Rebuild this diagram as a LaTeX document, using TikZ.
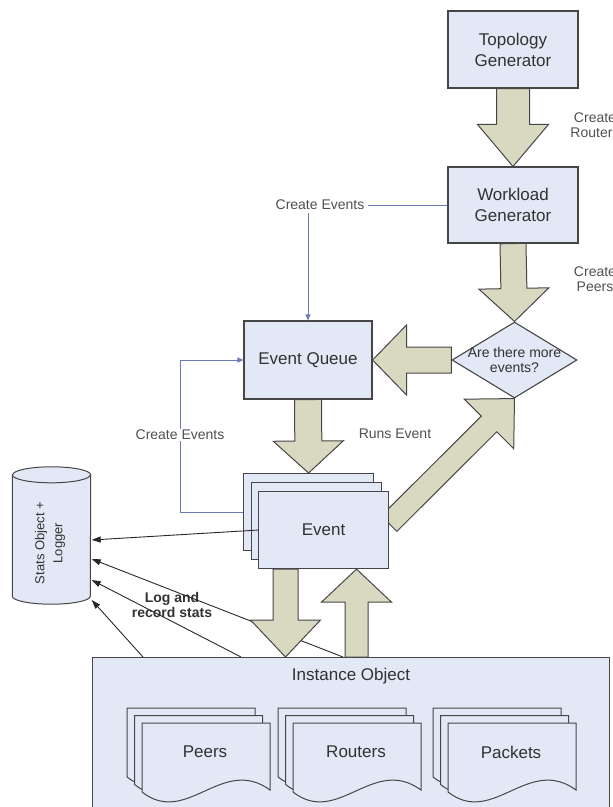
\documentclass[tikz,border=0pt]{standalone}
\usepackage{fontspec}
\setmainfont{Liberation Sans}
\usetikzlibrary{shapes.geometric,arrows.meta,calc}
\pgfdeclarelayer{lines}
\pgfdeclarelayer{arrows}
\pgfsetlayers{lines,arrows,main}

\definecolor{boxfill}{RGB}{226,232,245}
\definecolor{arrowfill}{RGB}{217,217,194}
\definecolor{edge}{RGB}{70,70,70}
\definecolor{textgray}{RGB}{50,50,50}
\definecolor{labelgray}{RGB}{80,80,80}
\definecolor{flowblue}{RGB}{105,125,180}
\definecolor{loggray}{RGB}{40,40,40}

% block arrow: start, tip, half shaft width, half head width, head length
\newcommand{\blockarrow}[5]{%
  \coordinate (ba-base) at ($(#2)!#5!(#1)$);
  \filldraw[blockarrow]
    ($(#1)!#3!90:(#2)$) -- ($(ba-base)!#3!90:(#2)$) -- ($(ba-base)!#4!90:(#2)$)
    -- (#2)
    -- ($(ba-base)!#4!-90:(#2)$) -- ($(ba-base)!#3!-90:(#2)$) -- ($(#1)!#3!-90:(#2)$) -- cycle;
}

\tikzset{
  bigtext/.style={font=\fontsize{17}{21}\selectfont, text=textgray, align=center},
  smalltext/.style={font=\fontsize{14}{15}\selectfont, text=labelgray, align=center},
  box/.style={bigtext, draw=edge, line width=1.1pt, fill=boxfill, inner sep=0pt},
  blockarrow/.style={draw=edge, line width=1pt, fill=arrowfill, line join=miter},
  logline/.style={draw=loggray, line width=0.9pt, -{Triangle[length=9pt,width=6pt]}},
  flow/.style={draw=flowblue, line width=0.8pt},
  flowarrow/.style={flow, -{Triangle[length=6pt,width=5pt]}},
  docpage/.pic={\filldraw[draw=edge, line width=1pt, fill=boxfill]
    (0,0) -- (128,0) -- (128,67) .. controls (80,32) and (45,104) .. (0,69) -- cycle;}
}

\begin{document}
\begin{tikzpicture}[x=1pt,y=-1pt]
\useasboundingbox (0,0) rectangle (613,807);

% generators, decision and queue
\node[box, minimum width=130pt, minimum height=77pt] (topo) at (513,49.5) {Topology\\Generator};
\node[box, minimum width=130pt, minimum height=76pt] (work) at (513,205) {Workload\\Generator};
\node[box, shape=diamond, minimum width=125pt, minimum height=76pt] (dia) at (514.5,360) {};
\node[smalltext, text=textgray] (diatext) at (dia.center) {Are there more\\events?};
\node[box, minimum width=128pt, minimum height=78pt] (queue) at (308,360) {Event Queue};

% stack of events
\node[box, minimum width=130pt, minimum height=77pt, anchor=north west] (evb2) at (243,473) {};
\node[box, minimum width=130pt, minimum height=77pt, anchor=north west] (evb1) at (250.5,482) {};
\node[box, minimum width=130pt, minimum height=77pt, anchor=north west] (ev) at (258,491) {Event};

% stats object and logger (cylinder)
\node[minimum width=78pt, minimum height=121pt, inner sep=0pt] (stats) at (51.5,535.5) {};
\filldraw[draw=edge, line width=1pt, fill=boxfill]
  (stats.north west) -- (stats.south west)
  arc[start angle=180, end angle=360, x radius=39pt, y radius=8pt]
  -- (stats.north east)
  arc[start angle=0, end angle=180, x radius=39pt, y radius=8pt] -- cycle;
\draw[draw=edge, line width=1pt] (stats.north west)
  arc[start angle=180, end angle=360, x radius=39pt, y radius=8pt];
\node[rotate=90, font=\fontsize{13}{18}\selectfont, text=textgray, align=center]
  (statstext) at ($(stats.center)+(-1.5,7.5)$) {Stats Object +\\Logger};

% instance object with its collections
\node[box, anchor=north west, minimum width=517pt, minimum height=160pt] (inst) at (92,657) {};
\node[bigtext] (insttitle) at ($(inst.north)+(0,19)$) {Instance Object};
\foreach \fx/\nm/\txt in {142/peers/Peers, 293/routers/Routers, 448/packets/Packets}{
  \pic at (\fx-15,708) {docpage};
  \pic at (\fx-7.5,715.5) {docpage};
  \pic at (\fx,723) {docpage};
  \node[bigtext] (\nm) at (\fx+63,752) {\txt};
}

% anchor points for the connectors
\coordinate (log2) at ($(inst.north west)+(251,0)$);
\coordinate (log3) at ($(inst.north west)+(149,0)$);
\coordinate (log4) at ($(inst.north west)+(51,0)$);
\coordinate (tip1) at ($(stats.east)+(1,4.5)$);
\coordinate (tip2) at ($(stats.east)+(1,23.5)$);
\coordinate (tip3) at ($(stats.east)+(1,44.5)$);
\coordinate (tip4) at ($(stats.east)+(1,64.5)$);
\coordinate (downs) at ($(ev.south west)+(27.5,0)$);
\coordinate (downt) at (downs |- inst.north);
\coordinate (upt) at ($(ev.south west)+(98.5,0)$);
\coordinate (ups) at (upt |- inst.north);
\coordinate (diags) at ($(ev.east)+(0,-6.5)$);

% logging connectors
\begin{pgfonlayer}{lines}
  \draw[logline] (log2) -- (tip2);
  \draw[logline] (log3) -- (tip3);
  \draw[logline] (log4) -- (tip4);
\end{pgfonlayer}
\draw[logline] (ev.west) -- (tip1);
\node[font=\bfseries\fontsize{14}{15}\selectfont, text=textgray, align=center] (logtext) at (172,605) {Log and\\record stats};

% flow arrows
\begin{pgfonlayer}{arrows}
  \blockarrow{topo.south}{work.north}{16.5pt}{35.5pt}{42pt}
  \blockarrow{work.south}{dia.north}{13pt}{35pt}{33pt}
  \blockarrow{dia.west}{queue.east}{13pt}{35pt}{34pt}
  \blockarrow{queue.south}{evb2.north}{13.5pt}{35pt}{32pt}
  \blockarrow{downs}{downt}{12.5pt}{35pt}{37pt}
  \blockarrow{ups}{upt}{11.5pt}{35pt}{33pt}
  \blockarrow{diags}{dia.south}{11pt}{35pt}{36pt}
\end{pgfonlayer}

% event creation links
\node[smalltext] (cet) at (320,205) {Create Events};
\draw[flow] (work.west) -- (cet.east);
\draw[flowarrow] (cet.south -| queue.north) -- (queue.north);
\draw[flowarrow] (evb2.west) -- ++(-63,0) coordinate (loopc) |- (queue.west);
\node[smalltext, fill=white, inner sep=1pt] (cel) at (loopc |- 0,435) {Create Events};

% side labels
\node[smalltext] (runs) at (395,434) {Runs Event};
\node[smalltext, font=\fontsize{14}{15.5}\selectfont] (crout) at (595,125) {Create\\Routers};
\node[smalltext, font=\fontsize{14}{15.5}\selectfont] (cpeer) at (595,279) {Create\\Peers};
\end{tikzpicture}
\end{document}
